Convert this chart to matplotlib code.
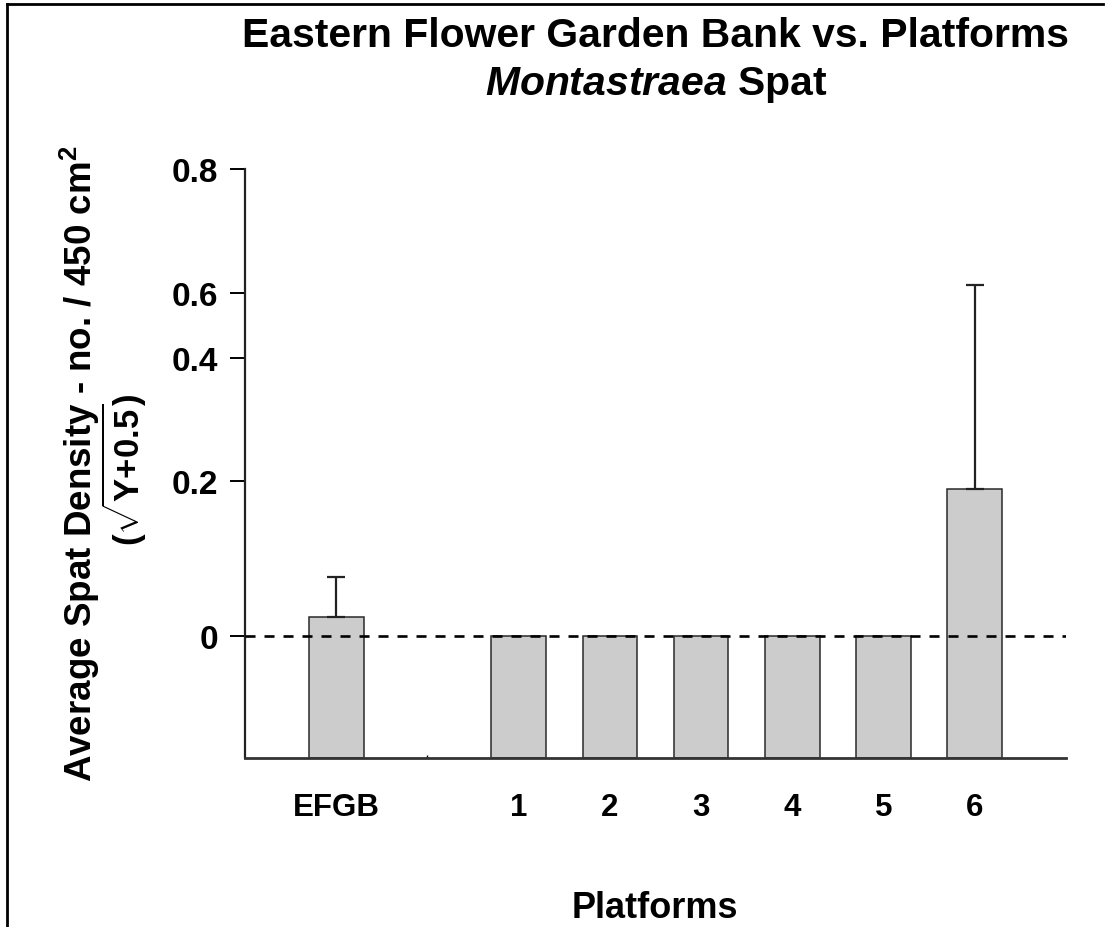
import numpy as np
import matplotlib
matplotlib.use("Agg")
import matplotlib.pyplot as plt
from matplotlib.lines import Line2D

# ---- data -------------------------------------------------------------
categories = ["EFGB", "1", "2", "3", "4", "5", "6"]
means = [0.025, 0.0, 0.0, 0.0, 0.0, 0.0, 0.19]
upper_err = [0.052, 0.0, 0.0, 0.0, 0.0, 0.0, 0.423]
y_tick_values = [0.0, 0.2, 0.4, 0.6, 0.8]
y_tick_labels = ["0", "0.2", "0.4", "0.6", "0.8"]

# ---- axis scale: piecewise linear between the labelled ticks ----------
TICK_SPACING = np.array([0.0, 155.0, 278.0, 343.0, 467.0])
VALS = np.array(y_tick_values)


def _piecewise(v, src, dst):
    v = np.asarray(v, dtype=float)
    shape = v.shape
    v = np.atleast_1d(v).ravel()
    out = np.interp(v, src, dst)
    lo = v < src[0]
    hi = v > src[-1]
    s0 = (dst[1] - dst[0]) / (src[1] - src[0])
    s1 = (dst[-1] - dst[-2]) / (src[-1] - src[-2])
    out[lo] = dst[0] + (v[lo] - src[0]) * s0
    out[hi] = dst[-1] + (v[hi] - src[-1]) * s1
    return out.reshape(shape)


def forward(v):
    return _piecewise(v, VALS, TICK_SPACING)


def inverse(p):
    return _piecewise(p, TICK_SPACING, VALS)


plt.rcParams.update({
    "font.family": "Liberation Sans",
    "font.weight": "bold",
    "mathtext.fontset": "custom",
    "mathtext.rm": "Liberation Sans:bold",
    "mathtext.bf": "Liberation Sans:bold",
    "mathtext.it": "Liberation Sans:italic:bold",
})

W, H = 1107, 928
fig = plt.figure(figsize=(W / 100, H / 100), dpi=100)
ax = fig.add_axes([245 / W, 1 - 759 / H, (1066 - 245) / W, (759 - 170) / H])
ax.set_yscale("function", functions=(forward, inverse))

y_bottom = -0.157
ax.set_ylim(y_bottom, 0.8)

x = np.r_[0, np.arange(2, 2 + len(categories) - 1)]
ax.set_xlim(-1, 8)

heights = np.array(means) - y_bottom
ax.bar(x, heights, bottom=y_bottom, width=0.6, color="#cccccc",
       edgecolor="#2a2a2a", linewidth=1.1, zorder=2)

err = np.array(upper_err)
has_err = err > 0
ax.errorbar(x[has_err], np.array(means)[has_err],
            yerr=[np.zeros(has_err.sum()), err[has_err]],
            fmt="none", ecolor="#222222", elinewidth=1.6,
            capsize=6.5, capthick=1.6, zorder=3)

ax.axhline(0, color="black", linewidth=1.9, linestyle=(0, (3.8, 3.4)),
           zorder=4)

# axes styling
for side in ("top", "right"):
    ax.spines[side].set_visible(False)
ax.spines["left"].set_linewidth(1.6)
ax.spines["bottom"].set_linewidth(2.0)
ax.spines["left"].set_color("#222222")
ax.spines["bottom"].set_color("#333333")

ax.set_yticks(y_tick_values)
ax.set_yticklabels(y_tick_labels, fontsize=24, fontweight="bold")
ax.tick_params(axis="y", direction="out", length=10.5, width=1.4,
               pad=9.0, colors="black")

ax.set_xticks(x)
ax.set_xticklabels(categories, fontsize=22.5, fontweight="bold")
ax.tick_params(axis="x", which="both", direction="in", length=2.5,
               width=1.0, pad=24.5)
ax.minorticks_on()
ax.yaxis.set_minor_locator(matplotlib.ticker.NullLocator())
ax.xaxis.set_minor_locator(matplotlib.ticker.FixedLocator([1]))

# titles and axis labels
fig.text(655 / W, 1 - 47 / H, "Eastern Flower Garden Bank vs. Platforms",
         ha="center", va="baseline", fontsize=29.4, fontweight="bold")
fig.text(656 / W, 1 - 95 / H, r"$\mathit{Montastraea}$ Spat",
         ha="center", va="baseline", fontsize=29.4, fontweight="bold")
fig.text(655 / W, 1 - 918 / H, "Platforms",
         ha="center", va="baseline", fontsize=26, fontweight="bold")
fig.text(80 / W, 1 - 464 / H, r"Average Spat Density - no. / 450 cm$^{2}$",
         rotation=90, ha="center", va="center", fontsize=26.5,
         fontweight="bold")
fig.text(124 / W, 1 - 470 / H, r"$(\sqrt{\mathrm{Y{+}0.5}})$",
         rotation=90, ha="center", va="center", fontsize=25,
         fontweight="bold")

# page frame
fig.add_artist(Line2D([7 / W, 7 / W], [0, 1 - 5 / H], transform=fig.transFigure,
                      color="black", linewidth=2.0))
fig.add_artist(Line2D([7 / W, 1103 / W], [1 - 5 / H, 1 - 5 / H],
                      transform=fig.transFigure, color="black", linewidth=2.0))

fig.savefig("out.png", dpi=100, facecolor="white")
